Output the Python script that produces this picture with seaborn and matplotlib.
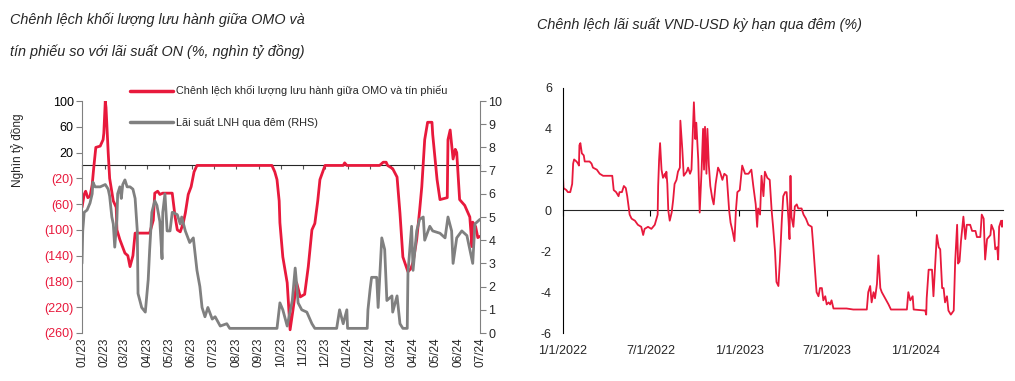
import matplotlib
matplotlib.use("Agg")
import matplotlib.pyplot as plt
import matplotlib.dates as mdates
import matplotlib.ticker as mticker
from matplotlib.lines import Line2D
import pandas as pd
import seaborn as sns

# ---- left chart: days since 2023-01-01 ----
omo_days = [0, 3, 5, 8, 11, 14, 16, 19, 25, 29, 30, 32, 33, 36, 38, 43, 47, 48, 52, 59,
            63, 66, 70, 73, 93, 98, 100, 104, 107, 111, 124, 128, 131, 135, 139, 142, 146,
            150, 154, 158, 261, 265, 268, 271, 272, 276, 282, 286, 290, 295, 300, 306, 311,
            316, 320, 324, 327, 334, 359, 361, 364, 409, 414, 418, 420, 427, 433, 437, 441,
            448, 452, 455, 460, 464, 467, 471, 475, 481, 482, 488, 492, 502, 503, 506, 510,
            513, 515, 519, 526, 533, 536, 537, 541, 544, 547]
omo_gap = [-65, -45, -40, -50, -48, -30, -5, 28, 30, 40, 50, 100, 90, 20, -20, -55, -65,
           -100, -115, -136, -140, -157, -140, -105, -105, -85, -43, -40, -45, -43, -43, -80,
           -100, -103, -90, -74, -45, -33, -10, 0, 0, -10, -22, -55, -89, -142, -182, -255,
           -224, -182, -204, -200, -157, -100, -90, -55, -22, 0, 0, 4, 0, 0, 5, 5, 0, -5, -18,
           -74, -142, -165, -160, -150, -115, -70, -33, 40, 67, 67, 48, -22, -53, -50, 40, 55,
           10, 25, 20, -53, -62, -80, -126, -88, -95, -112, -110]

on_days = [0, 1, 3, 7, 11, 14, 15, 18, 25, 32, 36, 38, 41, 43, 45, 48, 49, 52, 54, 56, 59,
           62, 66, 70, 73, 76, 77, 82, 87, 91, 93, 96, 100, 103, 107, 110, 111, 114, 117, 121,
           124, 125, 131, 135, 137, 142, 148, 153, 158, 162, 165, 169, 173, 179, 183, 190, 199,
           203, 268, 272, 276, 282, 289, 293, 295, 297, 302, 309, 316, 320, 350, 354, 359, 364,
           365, 392, 393, 396, 398, 405, 407, 412, 416, 419, 426, 427, 433, 437, 441, 447, 448,
           453, 455, 460, 464, 469, 471, 478, 482, 492, 499, 503, 508, 510, 515, 522, 529, 533,
           537, 540, 547]
on_rate = [3.0, 4.4, 5.2, 5.3, 5.6, 6.0, 6.5, 6.3, 6.3, 6.4, 6.2, 5.9, 5.0, 4.7, 3.7, 4.9,
           6.0, 6.3, 5.8, 6.4, 6.6, 6.3, 6.3, 6.2, 5.8, 4.4, 1.7, 1.1, 0.9, 2.3, 3.6, 5.2, 5.7,
           5.5, 4.8, 3.2, 5.2, 6.0, 4.4, 4.4, 5.2, 5.2, 5.1, 4.7, 5.0, 4.4, 3.9, 4.1, 2.7, 2.0,
           1.1, 0.7, 1.1, 0.6, 0.7, 0.3, 0.4, 0.2, 0.2, 1.3, 1.0, 0.3, 1.4, 2.8, 2.1, 1.3, 1.0,
           0.9, 0.4, 0.2, 0.2, 1.0, 0.4, 1.0, 0.2, 0.2, 1.0, 1.9, 2.4, 2.4, 1.1, 4.1, 3.6, 1.4,
           1.6, 0.9, 1.6, 0.4, 0.2, 0.2, 2.6, 4.6, 2.7, 4.4, 4.9, 5.0, 4.0, 4.6, 4.4, 4.3, 4.1,
           5.0, 4.4, 3.0, 4.1, 4.4, 4.2, 3.6, 3.0, 4.7, 4.9]

# ---- right chart: days since 2022-01-01 ----
spread_days = [0, 1, 7, 10, 15, 19, 21, 23, 28, 31, 33, 34, 36, 39, 43, 45, 55, 59, 62, 70,
               76, 83, 93, 102, 105, 110, 115, 117, 122, 126, 130, 133, 138, 142, 149, 155,
               162, 166, 169, 176, 183, 190, 196, 197, 199, 201, 204, 207, 211, 213, 214, 216,
               218, 221, 225, 228, 231, 235, 238, 242, 243, 247, 250, 256, 259, 263, 266, 270,
               271, 274, 276, 280, 283, 287, 290, 292, 294, 297, 299, 302, 305, 309, 312, 316,
               321, 325, 330, 334, 339, 344, 347, 351, 355, 358, 361, 366, 371, 377, 384, 390,
               394, 399, 402, 404, 408, 411, 415, 418, 423, 428, 432, 435, 439, 442, 446, 449,
               453, 456, 460, 463, 467, 469, 471, 473, 477, 480, 484, 487, 494, 498, 503, 508,
               515, 518, 522, 525, 529, 532, 536, 539, 543, 546, 550, 553, 556, 560, 567, 574,
               587, 601, 629, 632, 636, 639, 643, 646, 650, 653, 657, 660, 667, 674, 679, 712,
               715, 719, 724, 726, 750, 752, 753, 757, 764, 767, 771, 774, 778, 781, 785, 788,
               791, 795, 798, 803, 809, 812, 816, 818, 821, 824, 829, 833, 836, 840, 843, 847,
               854, 857, 864, 867, 871, 874, 878, 885, 887, 892, 895, 899, 901, 903, 907, 909, 910]
spread = [1.7, 1.1, 1.0, 0.9, 0.9, 1.3, 2.3, 2.5, 2.4, 2.3, 2.2, 3.2, 3.3, 2.8, 2.7, 2.4, 2.4,
          2.3, 2.1, 2.0, 1.8, 1.7, 1.7, 1.7, 1.0, 0.9, 0.7, 0.9, 0.9, 1.2, 1.1, 0.7, -0.2, -0.4,
          -0.5, -0.7, -0.8, -1.2, -0.9, -0.8, -0.9, -0.7, -0.2, 1.2, 2.5, 3.3, 2.0, 1.6, 1.8,
          1.6, 1.9, 1.3, 0.0, -0.5, -0.1, 0.5, 1.3, 1.5, 1.9, 2.1, 4.4, 3.0, 1.7, 1.9, 2.1, 1.8,
          2.0, 4.6, 5.3, 3.5, 4.3, 2.5, -0.1, 2.0, 4.0, 2.0, 4.1, 1.8, 4.0, 2.2, 1.2, 0.6, 0.3,
          1.3, 2.1, 1.9, 1.5, 1.8, 1.7, 0.0, -0.6, -1.0, -1.5, 0.0, 0.9, 1.0, 2.2, 1.8, 1.8,
          2.0, 1.2, 0.3, -0.8, 0.1, -0.2, 1.7, 0.7, 1.9, 1.6, 1.5, 0.0, -0.8, -2.0, -3.5, -3.7,
          -2.5, -0.5, 0.7, 0.9, 0.9, -0.5, -1.4, 1.7, -0.3, -0.8, 0.2, 0.3, 0.1, 0.1, -0.2,
          -0.4, -0.7, -0.8, -1.7, -3.0, -4.0, -4.2, -3.8, -3.8, -4.4, -4.2, -4.6, -4.5, -4.6,
          -4.4, -4.8, -4.8, -4.8, -4.8, -4.85, -4.85, -4.0, -3.7, -4.5, -4.0, -4.3, -3.6, -2.2,
          -3.8, -4.0, -4.3, -4.6, -4.85, -4.85, -4.0, -4.4, -4.2, -4.85, -4.9, -5.1, -4.3,
          -2.9, -2.9, -4.2, -2.5, -1.2, -1.8, -1.9, -3.8, -3.8, -4.5, -4.2, -4.9, -5.1, -4.9,
          -2.5, -0.7, -2.6, -2.5, -1.5, -0.3, -1.4, -0.7, -0.7, -0.7, -1.0, -1.0, -1.3, -1.3,
          -0.2, -0.4, -2.4, -1.4, -1.2, -0.7, -1.0, -1.9, -1.8, -2.4, -0.8, -0.5, -0.8, -0.5]

left_yticks = [100, 60, 20, -20, -60, -100, -140, -180, -220, -260]
right_yticks = list(range(0, 11))
spread_yticks = [6, 4, 2, 0, -2, -4, -6]

RED = "#E8193C"
GRAY = "#808080"

sns.set_style("white")
plt.rcParams["font.family"] = ["Liberation Sans Narrow", "Liberation Sans", "DejaVu Sans"]

df_left = pd.DataFrame({"date": pd.Timestamp("2023-01-01") + pd.to_timedelta(omo_days, unit="D"),
                        "value": omo_gap})
df_on = pd.DataFrame({"date": pd.Timestamp("2023-01-01") + pd.to_timedelta(on_days, unit="D"),
                      "value": on_rate})
df_right = pd.DataFrame({"date": pd.Timestamp("2022-01-01") + pd.to_timedelta(spread_days, unit="D"),
                         "value": spread})

fig = plt.figure(figsize=(10.15, 3.81), dpi=100)

# ---------------- left chart ----------------
ax1 = fig.add_axes([82 / 1015, 48 / 381, 398 / 1015, 232 / 381])
ax2 = ax1.twinx()
sns.lineplot(data=df_left, x="date", y="value", ax=ax1, color=RED, lw=2.0, estimator=None)
sns.lineplot(data=df_on, x="date", y="value", ax=ax2, color=GRAY, lw=2.0, estimator=None)

ax1.set_xlim(pd.Timestamp("2023-01-01"), pd.Timestamp("2024-07-01"))
ax1.set_ylim(-260, 100)
ax2.set_ylim(0, 10)
ax1.set_yticks(left_yticks)
ax1.set_yticklabels([f"{v}" if v > 0 else f"({-v})" for v in left_yticks], fontsize=9)
for lab, v in zip(ax1.get_yticklabels(), left_yticks):
    lab.set_color("black" if v > 0 else RED)
ax2.set_yticks(right_yticks)
ax2.set_yticklabels([str(v) for v in right_yticks], fontsize=9)
ax1.xaxis.set_major_locator(mdates.MonthLocator())
ax1.xaxis.set_major_formatter(mdates.DateFormatter("%m/%y"))
ax1.tick_params(axis="x", length=0, labelrotation=90, labelsize=8.5, pad=3)
ax1.tick_params(axis="y", length=4, color=GRAY, direction="out", pad=2)
ax2.tick_params(axis="y", length=4, color=GRAY, direction="out", pad=2)
ax1.set_xlabel("")
ax1.set_ylabel("")
ax2.set_ylabel("")
for s in ["top", "bottom", "right"]:
    ax1.spines[s].set_visible(False)
for s in ["top", "bottom", "left"]:
    ax2.spines[s].set_visible(False)
ax1.spines["left"].set_color(GRAY)
ax2.spines["right"].set_color(GRAY)

zero1 = ax1.secondary_xaxis(260 / 360)
zero1.xaxis.set_major_locator(mdates.MonthLocator())
zero1.xaxis.set_major_formatter(mticker.NullFormatter())
zero1.tick_params(axis="x", direction="in", length=3, color="#555555")
zero1.spines["bottom"].set_color("#555555")
zero1.spines["bottom"].set_linewidth(0.8)
ax1.set_zorder(1)
ax2.set_zorder(2)
ax1.patch.set_visible(False)

handles = [Line2D([], [], color=RED, lw=2.5), Line2D([], [], color=GRAY, lw=2.5)]
ax2.legend(handles, ["Chênh lệch khối lượng lưu hành giữa OMO và tín phiếu",
                     "Lãi suất LNH qua đêm (RHS)"],
           loc="upper left", bbox_to_anchor=(126 / 1015, 1 - 81 / 381),
           bbox_transform=fig.transFigure, frameon=False, fontsize=7.8,
           handlelength=3.9, handletextpad=0.3, labelspacing=1.9, borderaxespad=0)

fig.text(18 / 1015, 1 - 150 / 381, "Nghìn tỷ đồng", rotation=90, ha="center", va="center",
         fontsize=8.5)
fig.text(10 / 1015, 1 - 20 / 381, "Chênh lệch khối lượng lưu hành giữa OMO và",
         fontsize=10.4, style="italic", ha="left", va="center")
fig.text(10 / 1015, 1 - 52 / 381, "tín phiếu so với lãi suất ON (%, nghìn tỷ đồng)",
         fontsize=10.4, style="italic", ha="left", va="center")

# ---------------- right chart ----------------
ax3 = fig.add_axes([563 / 1015, 48 / 381, 440 / 1015, 245 / 381])
sns.lineplot(data=df_right, x="date", y="value", ax=ax3, color=RED, lw=1.3, estimator=None)
ax3.set_xlim(pd.Timestamp("2022-01-01"), pd.Timestamp("2022-01-01") + pd.Timedelta(days=911))
ax3.set_ylim(-6, 6)
ax3.set_yticks(spread_yticks)
ax3.set_yticklabels([str(v) for v in spread_yticks], fontsize=9)
ax3.xaxis.set_major_locator(mdates.MonthLocator(bymonth=[1, 7]))
ax3.xaxis.set_major_formatter(mticker.FuncFormatter(
    lambda x, pos: f"{mdates.num2date(x).month}/{mdates.num2date(x).day}/{mdates.num2date(x).year}"))
ax3.tick_params(axis="x", length=0, labelsize=9, pad=9)
ax3.tick_params(axis="y", length=5, color="black", direction="out", pad=3)
ax3.set_xlabel("")
ax3.set_ylabel("")
for s in ["top", "bottom", "right"]:
    ax3.spines[s].set_visible(False)
ax3.spines["left"].set_color("black")
zero3 = ax3.secondary_xaxis(0.5)
zero3.xaxis.set_major_locator(mdates.MonthLocator(bymonth=[1, 7]))
zero3.xaxis.set_major_formatter(mticker.NullFormatter())
zero3.tick_params(axis="x", direction="in", length=4, color="black")
zero3.spines["bottom"].set_color("black")
zero3.spines["bottom"].set_linewidth(1.0)

fig.text(537 / 1015, 1 - 25 / 381, "Chênh lệch lãi suất VND-USD kỳ hạn qua đêm (%)",
         fontsize=10.4, style="italic", ha="left", va="center")

fig.savefig("out.png", dpi=100)
